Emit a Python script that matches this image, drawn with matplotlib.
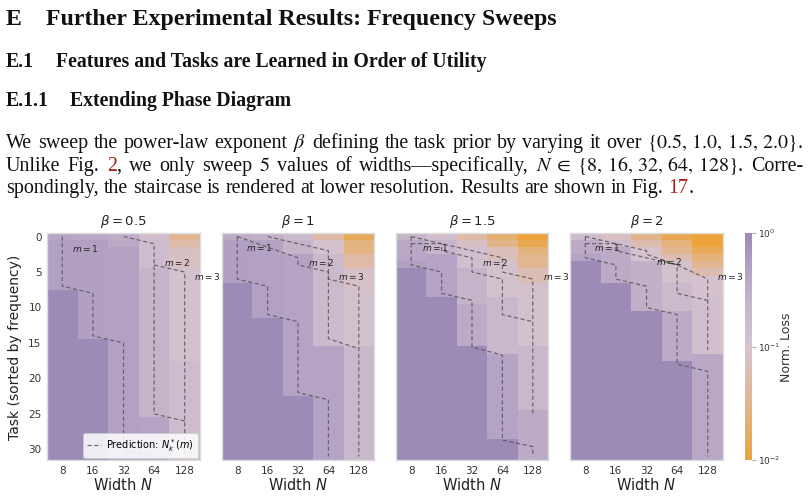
import numpy as np
import matplotlib
matplotlib.use("Agg")
import matplotlib.pyplot as plt
from matplotlib.colors import LinearSegmentedColormap, LogNorm

W, H = 808, 496

# ─────────────────────────────────────────────────────────────────────────────
# Data
# ─────────────────────────────────────────────────────────────────────────────

WIDTHS = [8, 16, 32, 64, 128]
BETAS = ["0.5", "1", "1.5", "2"]
TASK_TICKS = [0, 5, 10, 15, 20, 25, 30]
N_TASKS = 32

# log10(normalised loss) per width column, as runs of (n_tasks, value) from task 0 down
LOSS_B05 = [
    [(1, -0.38), (7, -0.3), (24, 0.0)],
    [(1, -0.42), (14, -0.3), (17, 0.0)],
    [(1, -0.5), (1, -0.42), (30, -0.32)],
    [(1, -0.9), (4, -0.8), (21, -0.6), (6, -0.35)],
    [(1, -1.45), (1, -1.3), (3, -1.1), (13, -0.95), (14, -0.8)],
]
LOSS_B10 = [
    [(1, -0.45), (6, -0.3), (25, 0.0)],
    [(1, -0.55), (11, -0.32), (20, 0.0)],
    [(1, -0.75), (2, -0.6), (20, -0.35), (9, 0.0)],
    [(1, -1.3), (2, -1.0), (13, -0.75), (16, -0.35)],
    [(1, -1.8), (2, -1.55), (2, -1.3), (3, -1.05), (8, -0.95), (16, -0.7)],
]
LOSS_B15 = [
    [(1, -0.6), (3, -0.4), (1, -0.3), (27, 0.0)],
    [(1, -0.9), (2, -0.65), (6, -0.35), (23, 0.0)],
    [(1, -1.3), (1, -1.1), (3, -0.9), (5, -0.6), (6, -0.45), (16, 0.0)],
    [(1, -1.65), (1, -1.5), (2, -1.15), (5, -0.95), (8, -0.7), (12, -0.35), (3, 0.0)],
    [(1, -2.0), (1, -1.85), (1, -1.6), (2, -1.45), (2, -1.2), (9, -0.95), (9, -0.7), (7, -0.45)],
]
LOSS_B20 = [
    [(1, -0.8), (2, -0.45), (1, -0.35), (28, 0.0)],
    [(1, -1.1), (1, -0.85), (5, -0.45), (25, 0.0)],
    [(1, -1.5), (1, -1.25), (2, -1.0), (7, -0.55), (21, 0.0)],
    [(1, -1.85), (1, -1.6), (1, -1.45), (1, -1.2), (3, -0.95), (4, -0.75), (7, -0.45), (14, 0.0)],
    [(2, -2.0), (1, -1.8), (1, -1.6), (1, -1.45), (1, -1.25), (3, -1.0), (8, -0.9), (15, -0.4)],
]

# predicted staircases N_k^*(m): vertices (width index, task)
PRED_B05 = [
    [(0, 0), (0, 7), (1, 8), (1, 14), (2, 15), (2, 30), (3, 31)],
    [(2, 0), (3, 1), (3, 25), (4, 26)],
    [(3, 4), (4, 5), (4, 31)],
]
PRED_B10 = [
    [(0, 0), (0, 6), (1, 7), (1, 11), (2, 12), (2, 22), (3, 23), (3, 31)],
    [(0, 0), (2, 3), (2, 4), (3, 5), (3, 6), (4, 7), (4, 31)],
    [(1, 0), (3, 2), (3, 14.4), (4, 15.8)],
]
PRED_B15 = [
    [(0, 0), (0, 4), (1, 5), (1, 8), (2, 9), (2, 15.6), (3, 16.7), (3, 28.7), (4, 29.6), (4, 31)],
    [(0, 0), (3, 3), (3, 5), (4, 6), (4, 25)],
    [(0, 1), (1, 1), (1, 2), (2, 3), (2, 5), (3, 6), (3, 11), (4, 12)],
]
PRED_B20 = [
    [(0, 0), (0, 3), (1, 4), (1, 6), (2, 7), (2, 10), (3, 11), (3, 18), (4, 19), (4, 31)],
    [(0, 0), (2, 2), (2, 2.5), (3, 4), (3, 8), (4, 9)],
    [(0, 1), (1, 1), (1, 2), (2, 3), (3, 4), (4, 6), (4, 16)],
]

M_LABELS = ["$m = 1$", "$m = 2$", "$m = 3$"]
# (width index, task) where each m-label starts
MPOS_B05 = [(0.32, 1.7), (3.32, 3.6), (4.3, 5.6)]
MPOS_B10 = [(0.28, 1.6), (2.32, 3.6), (3.32, 5.6)]
MPOS_B15 = [(0.36, 1.6), (2.32, 3.6), (4.32, 5.6)]
MPOS_B20 = [(0.3, 1.6), (2.32, 3.5), (4.3, 5.6)]

PANELS = [
    (BETAS[0], LOSS_B05, PRED_B05, MPOS_B05),
    (BETAS[1], LOSS_B10, PRED_B10, MPOS_B10),
    (BETAS[2], LOSS_B15, PRED_B15, MPOS_B15),
    (BETAS[3], LOSS_B20, PRED_B20, MPOS_B20),
]

# paper text above the figure
HEADINGS = [
    ("E", "Further Experimental Results: Frequency Sweeps"),
    ("E.1", "Features and Tasks are Learned in Order of Utility"),
    ("E.1.1", "Extending Phase Diagram"),
]
K, RED = "#111111", "#A3231D"
PARA = [
    ["We", "sweep", "the", "power-law", "exponent", [(r"$\beta$", K)], "defining", "the",
     "task", "prior", "by", "varying", "it", "over", [(r"$\{0.5,\,1.0,\,1.5,\,2.0\}$.", K)]],
    ["Unlike", "Fig.", [("2", RED), (",", K)], "we", "only", "sweep", [("$5$", K)], "values",
     "of", "widths\u2014specifically,", [(r"$N\;\in\;\{8,\,16,\,32,\,64,\,128\}$.", K)], "Corre-"],
    ["spondingly,", "the", "staircase", "is", "rendered", "at", "lower", "resolution.",
     "Results", "are", "shown", "in", "Fig.", [("17", RED), (".", K)]],
]


# ─────────────────────────────────────────────────────────────────────────────
# Helpers
# ─────────────────────────────────────────────────────────────────────────────

SERIF = "Liberation Serif"
plt.rcParams["mathtext.fontset"] = "dejavusans"

fig = plt.figure(figsize=(W / 100, H / 100), dpi=100)
fig.patch.set_facecolor("white")
renderer = fig.canvas.get_renderer()


def fx(x):
    return x / W


def fy(y):
    return 1 - y / H


def text_px(x, y, s, **kw):
    return fig.text(fx(x), fy(y), s, **kw)


def width_of(s, size, weight="normal"):
    t = fig.text(0, 0, s, fontsize=size, family=SERIF, fontweight=weight,
                 math_fontfamily="stix")
    w = t.get_window_extent(renderer).width
    t.remove()
    return w


def fit(s, target, weight="normal"):
    return 10 * target / width_of(s, 10, weight)


def place_line(tokens, x0, base, size, x1=None):
    toks = [[(t, K)] if isinstance(t, str) else t for t in tokens]
    widths = [[width_of(p, size) for p, _ in tok] for tok in toks]
    total = sum(sum(w) for w in widths)
    if x1 is None:
        gap = width_of("a a", size) - width_of("aa", size)
    else:
        gap = (x1 - x0 - total) / (len(toks) - 1)
    x = x0
    for tok, ws in zip(toks, widths):
        for (p, c), w in zip(tok, ws):
            text_px(x, base, p, fontsize=size, family=SERIF, color=c,
                    math_fontfamily="stix", va="baseline")
            x += w
        x += gap


def expand(runs):
    cols = [np.repeat([v for _, v in col], [n for n, _ in col]) for col in runs]
    return 10 ** np.column_stack(cols)


# ─────────────────────────────────────────────────────────────────────────────
# Paper text
# ─────────────────────────────────────────────────────────────────────────────

head_geo = [(25, 46, 557), (67, 56, 487), (106, 70, 291)]   # baseline, title x0, title x1
for (num, title), (base, tx0, tx1) in zip(HEADINGS, head_geo):
    size = fit(title, tx1 - tx0, "bold")
    text_px(6, base, num, fontsize=size, family=SERIF, fontweight="bold", va="baseline", color=K)
    text_px(tx0, base, title, fontsize=size, family=SERIF, fontweight="bold", va="baseline", color=K)

body = fit("spondingly, the staircase is rendered at lower resolution. Results are shown in Fig. 17.", 688)
place_line(PARA[0], 6, 148, body, 803)
place_line(PARA[1], 6, 171, body, 803)
place_line(PARA[2], 6, 193, body)


# ─────────────────────────────────────────────────────────────────────────────
# Heatmaps
# ─────────────────────────────────────────────────────────────────────────────

cmap = LinearSegmentedColormap.from_list("loss", [
    (0.0, "#EBA33A"), (0.2, "#E4B27C"), (0.35, "#DEBBA8"), (0.5, "#D6C3CF"),
    (0.7, "#C6B4CB"), (0.85, "#B3A1C4"), (1.0, "#9C8AB7"),
])
norm = LogNorm(1e-2, 1)
DASH = dict(color="#555555", lw=0.85, ls=(0, (3.5, 2.2)), alpha=0.85)

panel_x = [(47, 200), (222, 374), (396, 548), (570, 723)]
top, bot = 233, 460

for i, ((beta, runs, preds, mpos), (x0, x1)) in enumerate(zip(PANELS, panel_x)):
    ax = fig.add_axes([fx(x0), fy(bot), (x1 - x0) / W, (bot - top) / H])
    im = ax.imshow(expand(runs), cmap=cmap, norm=norm, aspect="auto",
                   interpolation="nearest", extent=(-0.5, 4.5, N_TASKS - 0.5, -0.5))
    for line in preds:
        xs, ys = zip(*line)
        ax.plot(xs, ys, **DASH)
    for lab, (lx, ly) in zip(M_LABELS, mpos):
        ax.text(lx, ly, lab, fontsize=6.5, color="#222222", va="center", ha="left", clip_on=False)

    ax.set_xlim(-0.5, 4.5)
    ax.set_ylim(N_TASKS - 0.5, -0.5)
    ax.set_xticks(range(len(WIDTHS)))
    ax.set_xticklabels([str(w) for w in WIDTHS])
    ax.set_yticks(TASK_TICKS)
    if i > 0:
        ax.set_yticklabels([])
    ax.tick_params(length=0, labelsize=7.5, labelcolor="#333333", pad=4)
    for sp in ax.spines.values():
        sp.set_color("#dddddd")
        sp.set_linewidth(1.0)

    cx = (x0 + x1) / 2
    text_px(cx, 222, rf"$\beta = {beta}$", fontsize=9.5, color="#222222", ha="center", va="center")
    text_px(cx, 485, r"Width $N$", fontsize=10.5, color="#222222", ha="center", va="center")

    if i == 0:
        ax.plot([], [], label=r"Prediction: $N_k^*(m)$", **DASH)
        leg = ax.legend(loc="lower right", fontsize=7, handlelength=1.4, borderpad=0.4,
                        handletextpad=0.5, framealpha=0.85, fancybox=True,
                        bbox_to_anchor=(1.0, 0.0), borderaxespad=0.25)
        leg.get_frame().set_edgecolor("#cccccc")
        leg.get_frame().set_linewidth(0.6)

text_px(15, 347, "Task (sorted by frequency)", fontsize=10, color="#222222",
        rotation=90, ha="center", va="center")

# colorbar
cax = fig.add_axes([fx(745), fy(bot), 6.5 / W, (bot - top) / H])
cb = fig.colorbar(im, cax=cax)
cb.set_ticks([1e-2, 1e-1, 1])
cb.ax.minorticks_off()
cb.outline.set_visible(False)
cb.ax.tick_params(labelsize=6.5, length=3, width=0.6, color="#999999", labelcolor="#333333", pad=1.5)
text_px(786, 347, "Norm. Loss", fontsize=9, color="#333333", rotation=90, ha="center", va="center")

fig.savefig("out.png", dpi=100)
